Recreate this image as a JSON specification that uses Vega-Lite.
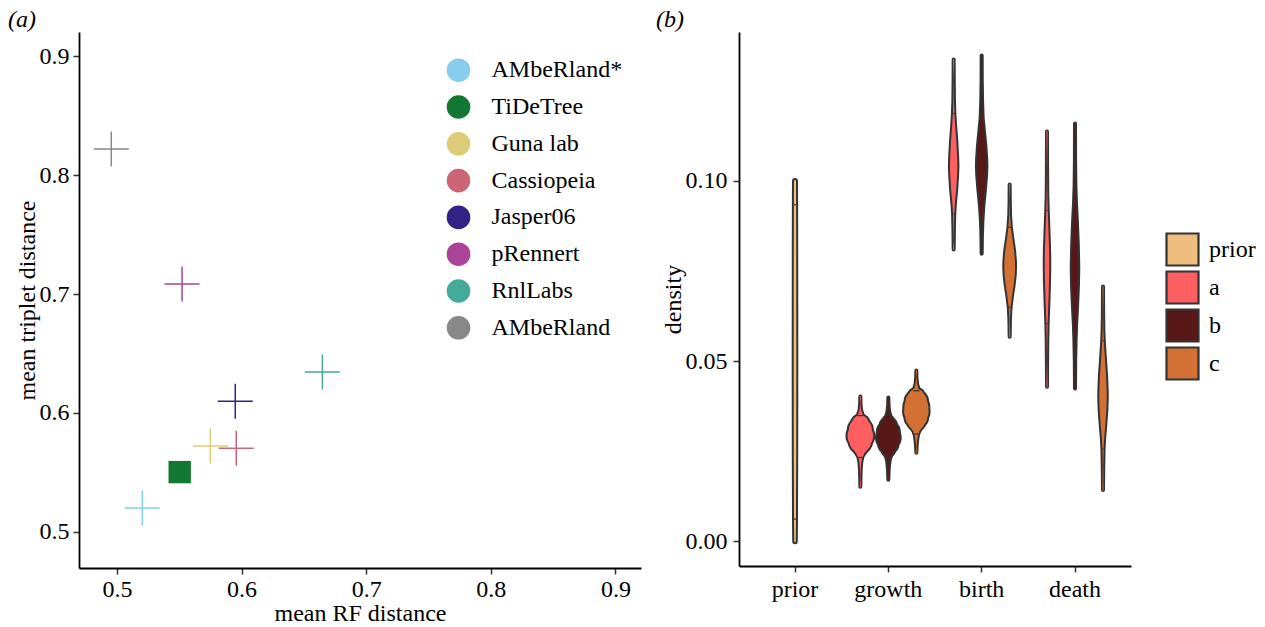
{
  "$schema": "https://vega.github.io/schema/vega-lite/v6.json",
  "padding": {"left": 8, "top": 8, "right": 0, "bottom": 0},
  "background": "white",
  "spacing": 15,
  "config": {
    "font": "Liberation Serif",
    "view": {"stroke": null},
    "axis": {"grid": false, "domainColor": "black", "domainWidth": 1.8, "tickColor": "#333333", "tickWidth": 1.5, "tickSize": 6, "labelFont": "Liberation Serif", "labelFontSize": 24, "labelColor": "black", "titleFont": "Liberation Serif", "titleFontSize": 24, "titleFontWeight": "normal", "titleColor": "black", "labelPadding": 4, "titlePadding": 0},
    "legend": {"labelFont": "Liberation Serif", "labelFontSize": 24, "labelColor": "black", "padding": 0, "title": null},
    "title": {"font": "Liberation Serif", "fontSize": 24, "fontWeight": "normal", "fontStyle": "italic", "anchor": "start", "frame": "bounds", "color": "black"}
  },
  "datasets": {
    "methods": [
      {"method": "AMbeRland*", "rf": 0.5203, "triplet": 0.5200},
      {"method": "TiDeTree", "rf": 0.5503, "triplet": 0.5502},
      {"method": "Guna lab", "rf": 0.5749, "triplet": 0.5722},
      {"method": "Cassiopeia", "rf": 0.5957, "triplet": 0.5703},
      {"method": "Jasper06", "rf": 0.5949, "triplet": 0.6099},
      {"method": "pRennert", "rf": 0.5522, "triplet": 0.7084},
      {"method": "RnlLabs", "rf": 0.6648, "triplet": 0.6345},
      {"method": "AMbeRland", "rf": 0.4954, "triplet": 0.8220}
    ],
    "quantiles": [
      {"param": "prior", "group": "prior", "v": 0.0934, "dens": 0.0236},
      {"param": "prior", "group": "prior", "v": 0.0062, "dens": 0.0214},
      {"param": "growth", "group": "a", "v": 0.0349, "dens": 0.062},
      {"param": "growth", "group": "a", "v": 0.0233, "dens": 0.042},
      {"param": "growth", "group": "b", "v": 0.0352, "dens": 0.037},
      {"param": "growth", "group": "b", "v": 0.0224, "dens": 0.024},
      {"param": "growth", "group": "c", "v": 0.0418, "dens": 0.066},
      {"param": "growth", "group": "c", "v": 0.0298, "dens": 0.044},
      {"param": "birth", "group": "a", "v": 0.1187, "dens": 0.0161},
      {"param": "birth", "group": "a", "v": 0.0909, "dens": 0.0129},
      {"param": "birth", "group": "b", "v": 0.1176, "dens": 0.0214},
      {"param": "birth", "group": "b", "v": 0.0890, "dens": 0.0161},
      {"param": "birth", "group": "c", "v": 0.0871, "dens": 0.0268},
      {"param": "birth", "group": "c", "v": 0.0649, "dens": 0.0193},
      {"param": "death", "group": "a", "v": 0.0918, "dens": 0.0161},
      {"param": "death", "group": "a", "v": 0.0604, "dens": 0.0139},
      {"param": "death", "group": "b", "v": 0.0945, "dens": 0.0193},
      {"param": "death", "group": "b", "v": 0.0557, "dens": 0.0129},
      {"param": "death", "group": "c", "v": 0.0557, "dens": 0.0171},
      {"param": "death", "group": "c", "v": 0.0257, "dens": 0.0129}
    ],
    "violin": [
      {"param": "prior", "group": "prior", "v": 0.0, "dens": 0.0171},
      {"param": "prior", "group": "prior", "v": 0.0058, "dens": 0.0214},
      {"param": "prior", "group": "prior", "v": 0.025, "dens": 0.0268},
      {"param": "prior", "group": "prior", "v": 0.05, "dens": 0.0289},
      {"param": "prior", "group": "prior", "v": 0.0806, "dens": 0.0268},
      {"param": "prior", "group": "prior", "v": 0.0972, "dens": 0.0236},
      {"param": "prior", "group": "prior", "v": 0.1, "dens": 0.0214},

      {"param": "growth", "group": "a", "v": 0.0402, "dens": 0},
      {"param": "growth", "group": "a", "v": 0.0382, "dens": 0.0032},
      {"param": "growth", "group": "a", "v": 0.0365, "dens": 0.0161},
      {"param": "growth", "group": "a", "v": 0.0354, "dens": 0.0429},
      {"param": "growth", "group": "a", "v": 0.0340, "dens": 0.0964},
      {"param": "growth", "group": "a", "v": 0.0327, "dens": 0.1821},
      {"param": "growth", "group": "a", "v": 0.0310, "dens": 0.2518},
      {"param": "growth", "group": "a", "v": 0.0293, "dens": 0.2818},
      {"param": "growth", "group": "a", "v": 0.0277, "dens": 0.2357},
      {"param": "growth", "group": "a", "v": 0.0260, "dens": 0.1500},
      {"param": "growth", "group": "a", "v": 0.0246, "dens": 0.0857},
      {"param": "growth", "group": "a", "v": 0.0232, "dens": 0.0396},
      {"param": "growth", "group": "a", "v": 0.0218, "dens": 0.0193},
      {"param": "growth", "group": "a", "v": 0.0202, "dens": 0.0086},
      {"param": "growth", "group": "a", "v": 0.0180, "dens": 0.0032},
      {"param": "growth", "group": "a", "v": 0.0152, "dens": 0},

      {"param": "growth", "group": "b", "v": 0.0399, "dens": 0},
      {"param": "growth", "group": "b", "v": 0.0379, "dens": 0.0032},
      {"param": "growth", "group": "b", "v": 0.0363, "dens": 0.0161},
      {"param": "growth", "group": "b", "v": 0.0349, "dens": 0.0429},
      {"param": "growth", "group": "b", "v": 0.0335, "dens": 0.1018},
      {"param": "growth", "group": "b", "v": 0.0321, "dens": 0.1714},
      {"param": "growth", "group": "b", "v": 0.0304, "dens": 0.2304},
      {"param": "growth", "group": "b", "v": 0.0288, "dens": 0.2496},
      {"param": "growth", "group": "b", "v": 0.0271, "dens": 0.2036},
      {"param": "growth", "group": "b", "v": 0.0254, "dens": 0.1286},
      {"param": "growth", "group": "b", "v": 0.0241, "dens": 0.0696},
      {"param": "growth", "group": "b", "v": 0.0227, "dens": 0.0321},
      {"param": "growth", "group": "b", "v": 0.0213, "dens": 0.0161},
      {"param": "growth", "group": "b", "v": 0.0196, "dens": 0.0064},
      {"param": "growth", "group": "b", "v": 0.0171, "dens": 0},

      {"param": "growth", "group": "c", "v": 0.0474, "dens": 0},
      {"param": "growth", "group": "c", "v": 0.0454, "dens": 0.0032},
      {"param": "growth", "group": "c", "v": 0.0438, "dens": 0.0161},
      {"param": "growth", "group": "c", "v": 0.0427, "dens": 0.0375},
      {"param": "growth", "group": "c", "v": 0.0415, "dens": 0.0750},
      {"param": "growth", "group": "c", "v": 0.0402, "dens": 0.1714},
      {"param": "growth", "group": "c", "v": 0.0388, "dens": 0.2357},
      {"param": "growth", "group": "c", "v": 0.0374, "dens": 0.2625},
      {"param": "growth", "group": "c", "v": 0.0360, "dens": 0.2679},
      {"param": "growth", "group": "c", "v": 0.0346, "dens": 0.2411},
      {"param": "growth", "group": "c", "v": 0.0332, "dens": 0.1821},
      {"param": "growth", "group": "c", "v": 0.0318, "dens": 0.1125},
      {"param": "growth", "group": "c", "v": 0.0304, "dens": 0.0589},
      {"param": "growth", "group": "c", "v": 0.0293, "dens": 0.0321},
      {"param": "growth", "group": "c", "v": 0.0279, "dens": 0.0161},
      {"param": "growth", "group": "c", "v": 0.0263, "dens": 0.0054},
      {"param": "growth", "group": "c", "v": 0.0246, "dens": 0},

      {"param": "birth", "group": "a", "v": 0.1337, "dens": 0},
      {"param": "birth", "group": "a", "v": 0.1278, "dens": 0.0021},
      {"param": "birth", "group": "a", "v": 0.1223, "dens": 0.0064},
      {"param": "birth", "group": "a", "v": 0.1187, "dens": 0.0161},
      {"param": "birth", "group": "a", "v": 0.1154, "dens": 0.0321},
      {"param": "birth", "group": "a", "v": 0.1112, "dens": 0.0568},
      {"param": "birth", "group": "a", "v": 0.1070, "dens": 0.0750},
      {"param": "birth", "group": "a", "v": 0.1043, "dens": 0.0825},
      {"param": "birth", "group": "a", "v": 0.1015, "dens": 0.0750},
      {"param": "birth", "group": "a", "v": 0.0973, "dens": 0.0536},
      {"param": "birth", "group": "a", "v": 0.0937, "dens": 0.0268},
      {"param": "birth", "group": "a", "v": 0.0909, "dens": 0.0129},
      {"param": "birth", "group": "a", "v": 0.0876, "dens": 0.0064},
      {"param": "birth", "group": "a", "v": 0.0834, "dens": 0.0021},
      {"param": "birth", "group": "a", "v": 0.0810, "dens": 0},

      {"param": "birth", "group": "b", "v": 0.1348, "dens": 0},
      {"param": "birth", "group": "b", "v": 0.1278, "dens": 0.0021},
      {"param": "birth", "group": "b", "v": 0.1223, "dens": 0.0086},
      {"param": "birth", "group": "b", "v": 0.1176, "dens": 0.0214},
      {"param": "birth", "group": "b", "v": 0.1140, "dens": 0.0482},
      {"param": "birth", "group": "b", "v": 0.1098, "dens": 0.0804},
      {"param": "birth", "group": "b", "v": 0.1062, "dens": 0.0996},
      {"param": "birth", "group": "b", "v": 0.1040, "dens": 0.1039},
      {"param": "birth", "group": "b", "v": 0.1015, "dens": 0.0964},
      {"param": "birth", "group": "b", "v": 0.0973, "dens": 0.0696},
      {"param": "birth", "group": "b", "v": 0.0932, "dens": 0.0375},
      {"param": "birth", "group": "b", "v": 0.0890, "dens": 0.0161},
      {"param": "birth", "group": "b", "v": 0.0848, "dens": 0.0054},
      {"param": "birth", "group": "b", "v": 0.0798, "dens": 0},

      {"param": "birth", "group": "c", "v": 0.0990, "dens": 0},
      {"param": "birth", "group": "c", "v": 0.0945, "dens": 0.0021},
      {"param": "birth", "group": "c", "v": 0.0904, "dens": 0.0086},
      {"param": "birth", "group": "c", "v": 0.0871, "dens": 0.0268},
      {"param": "birth", "group": "c", "v": 0.0840, "dens": 0.0589},
      {"param": "birth", "group": "c", "v": 0.0807, "dens": 0.0964},
      {"param": "birth", "group": "c", "v": 0.0779, "dens": 0.1146},
      {"param": "birth", "group": "c", "v": 0.0760, "dens": 0.1179},
      {"param": "birth", "group": "c", "v": 0.0737, "dens": 0.1104},
      {"param": "birth", "group": "c", "v": 0.0710, "dens": 0.0857},
      {"param": "birth", "group": "c", "v": 0.0679, "dens": 0.0482},
      {"param": "birth", "group": "c", "v": 0.0649, "dens": 0.0193},
      {"param": "birth", "group": "c", "v": 0.0618, "dens": 0.0064},
      {"param": "birth", "group": "c", "v": 0.0568, "dens": 0},

      {"param": "death", "group": "a", "v": 0.1137, "dens": 0},
      {"param": "death", "group": "a", "v": 0.1029, "dens": 0.0021},
      {"param": "death", "group": "a", "v": 0.0959, "dens": 0.0064},
      {"param": "death", "group": "a", "v": 0.0918, "dens": 0.0161},
      {"param": "death", "group": "a", "v": 0.0862, "dens": 0.0321},
      {"param": "death", "group": "a", "v": 0.0807, "dens": 0.0461},
      {"param": "death", "group": "a", "v": 0.0771, "dens": 0.0504},
      {"param": "death", "group": "a", "v": 0.0723, "dens": 0.0450},
      {"param": "death", "group": "a", "v": 0.0668, "dens": 0.0321},
      {"param": "death", "group": "a", "v": 0.0604, "dens": 0.0139},
      {"param": "death", "group": "a", "v": 0.0557, "dens": 0.0064},
      {"param": "death", "group": "a", "v": 0.0501, "dens": 0.0021},
      {"param": "death", "group": "a", "v": 0.0429, "dens": 0},

      {"param": "death", "group": "b", "v": 0.1159, "dens": 0},
      {"param": "death", "group": "b", "v": 0.1056, "dens": 0.0021},
      {"param": "death", "group": "b", "v": 0.0987, "dens": 0.0086},
      {"param": "death", "group": "b", "v": 0.0945, "dens": 0.0193},
      {"param": "death", "group": "b", "v": 0.0890, "dens": 0.0407},
      {"param": "death", "group": "b", "v": 0.0821, "dens": 0.0621},
      {"param": "death", "group": "b", "v": 0.0760, "dens": 0.0718},
      {"param": "death", "group": "b", "v": 0.0710, "dens": 0.0643},
      {"param": "death", "group": "b", "v": 0.0654, "dens": 0.0461},
      {"param": "death", "group": "b", "v": 0.0599, "dens": 0.0236},
      {"param": "death", "group": "b", "v": 0.0557, "dens": 0.0129},
      {"param": "death", "group": "b", "v": 0.0501, "dens": 0.0043},
      {"param": "death", "group": "b", "v": 0.0424, "dens": 0},

      {"param": "death", "group": "c", "v": 0.0707, "dens": 0},
      {"param": "death", "group": "c", "v": 0.0626, "dens": 0.0032},
      {"param": "death", "group": "c", "v": 0.0585, "dens": 0.0086},
      {"param": "death", "group": "c", "v": 0.0557, "dens": 0.0171},
      {"param": "death", "group": "c", "v": 0.0515, "dens": 0.0375},
      {"param": "death", "group": "c", "v": 0.0460, "dens": 0.0675},
      {"param": "death", "group": "c", "v": 0.0418, "dens": 0.0804},
      {"param": "death", "group": "c", "v": 0.0399, "dens": 0.0825},
      {"param": "death", "group": "c", "v": 0.0363, "dens": 0.0729},
      {"param": "death", "group": "c", "v": 0.0321, "dens": 0.0482},
      {"param": "death", "group": "c", "v": 0.0285, "dens": 0.0246},
      {"param": "death", "group": "c", "v": 0.0257, "dens": 0.0129},
      {"param": "death", "group": "c", "v": 0.0210, "dens": 0.0054},
      {"param": "death", "group": "c", "v": 0.0143, "dens": 0}
    ]
  },
  "hconcat": [
    {
      "width": 562,
      "height": 536,
      "title": {"text": "(a)", "dx": -7, "offset": 0},
      "data": {"name": "methods"},
      "encoding": {
        "x": {"field": "rf", "type": "quantitative", "scale": {"domain": [0.4695, 0.9205], "nice": false, "zero": false}, "axis": {"values": [0.5, 0.6, 0.7, 0.8, 0.9], "format": ".1f", "title": "mean RF distance", "labelPadding": 3, "titlePadding": 0}},
        "y": {"field": "triplet", "type": "quantitative", "scale": {"domain": [0.4695, 0.9205], "nice": false, "zero": false}, "axis": {"values": [0.5, 0.6, 0.7, 0.8, 0.9], "format": ".1f", "title": "mean triplet distance", "labelPadding": 4}},
        "color": {
          "field": "method", "type": "nominal",
          "scale": {"domain": ["AMbeRland*", "TiDeTree", "Guna lab", "Cassiopeia", "Jasper06", "pRennert", "RnlLabs", "AMbeRland"], "range": ["#88CCEE", "#117733", "#DDCC77", "#CC6677", "#332288", "#AA4499", "#44AA99", "#888888"]},
          "legend": {
            "orient": "none", "legendX": 367.5, "legendY": 26.2,
            "symbolType": "circle", "symbolSize": 490, "rowPadding": 6.8, "labelOffset": 21,
            "encode": {"symbols": {"update": {"fill": {"scale": "color", "field": "value"}, "strokeWidth": {"value": 0}, "opacity": {"value": 1}, "fillOpacity": {"value": 1}}}}
          }
        }
      },
      "layer": [
        {"transform": [{"filter": "datum.method !== 'TiDeTree'"}], "mark": {"type": "point", "shape": "M-1,0L1,0M0,-1L0,1", "size": 1225, "strokeWidth": 1.5, "filled": false, "opacity": 1}},
        {"transform": [{"filter": "datum.method === 'TiDeTree'"}], "mark": {"type": "square", "size": 500, "filled": true, "opacity": 1}}
      ]
    },
    {
      "width": 392,
      "height": 534,
      "title": {"text": "(b)", "dx": -5, "offset": 0},
      "data": {"name": "violin"},
      "encoding": {
        "x": {"field": "param", "type": "nominal", "sort": ["prior", "growth", "birth", "death"], "scale": {"type": "band", "domain": ["prior", "growth", "birth", "death"], "paddingInner": 0, "paddingOuter": 0.1}, "axis": {"title": null, "labelAngle": 0, "labelPadding": 5}},
        "y": {"field": "v", "type": "quantitative", "scale": {"domain": [-0.0068, 0.1413], "nice": false, "zero": false}, "axis": {"values": [0, 0.05, 0.1], "format": ".2f", "title": "density", "labelPadding": 6}},
        "order": {"field": "v", "type": "quantitative"}
      },
      "layer": [
        {
          "transform": [{"filter": "datum.group === 'prior'"}],
          "mark": {"type": "trail", "color": "#333333"},
          "encoding": {
            "size": {"field": "dens", "type": "quantitative", "scale": {"domain": [0, 1], "range": [4, 95.33], "zero": false}, "legend": null}
          }
        },
        {
          "transform": [{"filter": "datum.group !== 'prior'"}],
          "mark": {"type": "trail", "color": "#333333"},
          "encoding": {
            "xOffset": {"field": "group", "type": "nominal", "scale": {"type": "band", "domain": ["a", "b", "c"], "paddingInner": 0, "paddingOuter": 0.1667}},
            "detail": [{"field": "param"}, {"field": "group"}],
            "size": {"field": "dens", "type": "quantitative", "scale": {"domain": [0, 1], "range": [4, 95.33], "zero": false}, "legend": null}
          }
        },
        {
          "transform": [{"filter": "datum.group === 'prior'"}],
          "mark": {"type": "trail", "color": "#333333"},
          "encoding": {
            "fill": {"field": "group", "type": "nominal", "scale": {"domain": ["prior", "a", "b", "c"], "range": ["#EFBD7E", "#FE6062", "#591818", "#D37034"]},
              "legend": {"orient": "none", "legendX": 1086, "legendY": 200, "symbolType": "square", "symbolSize": 1024, "symbolStrokeColor": "#333333", "symbolStrokeWidth": 2.2, "symbolOpacity": 1, "rowPadding": -3.5, "labelOffset": 9}},
            "size": {"field": "dens", "type": "quantitative", "scale": {"domain": [0, 1], "range": [0, 91.33]}, "legend": null}
          }
        },
        {
          "transform": [{"filter": "datum.group !== 'prior'"}],
          "mark": {"type": "trail", "color": "#333333"},
          "encoding": {
            "xOffset": {"field": "group", "type": "nominal", "scale": {"type": "band", "domain": ["a", "b", "c"], "paddingInner": 0, "paddingOuter": 0.1667}},
            "detail": [{"field": "param"}, {"field": "group"}],
            "fill": {"field": "group", "type": "nominal", "scale": {"domain": ["prior", "a", "b", "c"], "range": ["#EFBD7E", "#FE6062", "#591818", "#D37034"]}},
            "size": {"field": "dens", "type": "quantitative", "scale": {"domain": [0, 1], "range": [0, 91.33]}, "legend": null}
          }
        },
        {
          "data": {"name": "quantiles"},
          "transform": [{"filter": "datum.group === 'prior'"}],
          "mark": {"type": "tick", "color": "#333333", "thickness": 1.2, "opacity": 1, "orient": "horizontal"},
          "encoding": {
            "size": {"field": "dens", "type": "quantitative", "scale": {"domain": [0, 1], "range": [0, 93.33]}, "legend": null}
          }
        },
        {
          "data": {"name": "quantiles"},
          "transform": [{"filter": "datum.group !== 'prior'"}],
          "mark": {"type": "tick", "color": "#333333", "thickness": 1.2, "opacity": 1, "orient": "horizontal"},
          "encoding": {
            "xOffset": {"field": "group", "type": "nominal", "scale": {"type": "band", "domain": ["a", "b", "c"], "paddingInner": 0, "paddingOuter": 0.1667}},
            "size": {"field": "dens", "type": "quantitative", "scale": {"domain": [0, 1], "range": [0, 93.33]}, "legend": null}
          }
        }
      ],
      "resolve": {"scale": {"size": "independent"}}
    }
  ]
}
